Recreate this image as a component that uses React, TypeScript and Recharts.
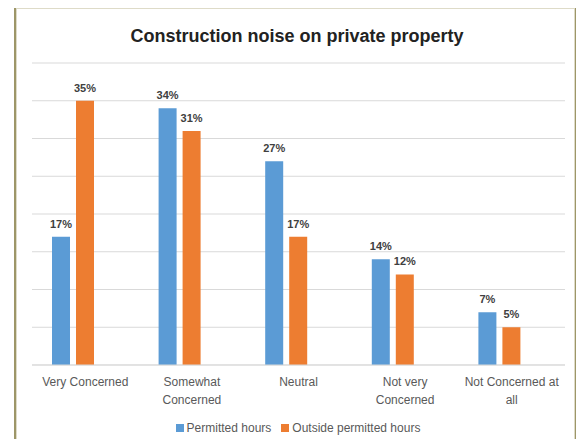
import { BarChart, Bar, XAxis, YAxis, CartesianGrid, Legend, LabelList } from "recharts";

const categories = ["Very Concerned", "Somewhat Concerned", "Neutral", "Not very Concerned", "Not Concerned at all"];
const categoryLines = [["Very Concerned"], ["Somewhat", "Concerned"], ["Neutral"], ["Not very", "Concerned"], ["Not Concerned at", "all"]];
const permitted = [17, 34, 27, 14, 7];
const outside = [35, 31, 17, 12, 5];
const yTicks = [0, 5, 10, 15, 20, 25, 30, 35, 40];

const BLUE = "#5b9bd5";
const ORANGE = "#ed7d31";
const FONT = "'Liberation Sans', Arial, sans-serif";

const data = categories.map((c, i) => ({ category: c, permitted: permitted[i], outside: outside[i] }));

function CategoryTick({ x, y, payload }: any) {
  const lines = categoryLines[payload.index] || [payload.value];
  return (
    <text x={x} y={y} textAnchor="middle" fill="#595959" fontSize={12} fontFamily={FONT}>
      {lines.map((l, i) => (
        <tspan key={i} x={x} dy={i === 0 ? 13 : 18}>{l}</tspan>
      ))}
    </text>
  );
}

function LegendContent() {
  const items = [
    { label: "Permitted hours", color: BLUE },
    { label: "Outside permitted hours", color: ORANGE },
  ];
  return (
    <div style={{ display: "flex", justifyContent: "center", paddingLeft: 12, height: 20, alignItems: "center",
      fontFamily: FONT, fontSize: 12, color: "#595959" }}>
      {items.map((it) => (
        <div key={it.label} style={{ display: "flex", alignItems: "center", margin: "0 5px" }}>
          <span style={{ width: 8, height: 8, background: it.color, display: "inline-block", marginRight: 3 }} />
          <span>{it.label}</span>
        </div>
      ))}
    </div>
  );
}

export default function App() {
  return (
    <div style={{ position: "relative", width: 584, height: 447, margin: -8, overflow: "hidden", background: "#fff" }}>
      <div style={{ position: "absolute", left: 14, top: 6, width: 559, height: 460,
        border: "2px solid #9d9668", boxShadow: "inset 0 0 0 1px #dedbc8" }} />
      <div style={{ position: "absolute", left: 0, width: 594, top: 26, textAlign: "center",
        fontFamily: FONT, fontWeight: "bold", fontSize: 18, color: "#222" }}>
        Construction noise on private property
      </div>
      <div style={{ position: "absolute", left: 0, top: 0 }}>
        <BarChart width={584} height={447} data={data} barSize={18} barGap={6}
          margin={{ top: 63, right: 19, left: 32, bottom: 9 }}>
          <CartesianGrid vertical={false} stroke="#d9d9d9" />
          <XAxis dataKey="category" height={53} tickLine={false} axisLine={{ stroke: "#d9d9d9" }}
            tick={<CategoryTick />} interval={0} />
          <XAxis xAxisId="bars" dataKey="category" hide padding={{ left: -12, right: 12 }} />
          <YAxis hide domain={[0, 40]} ticks={yTicks} />
          <Legend verticalAlign="bottom" content={<LegendContent />} wrapperStyle={{ left: 0, width: 584 }} />
          <Bar xAxisId="bars" dataKey="permitted" name="Permitted hours" fill={BLUE} isAnimationActive={false}>
            <LabelList dataKey="permitted" position="top" offset={9} formatter={(v: any) => `${v}%`}
              style={{ fill: "#404040", fontSize: 11, fontWeight: "bold", fontFamily: FONT }} />
          </Bar>
          <Bar xAxisId="bars" dataKey="outside" name="Outside permitted hours" fill={ORANGE} isAnimationActive={false}>
            <LabelList dataKey="outside" position="top" offset={9} formatter={(v: any) => `${v}%`}
              style={{ fill: "#404040", fontSize: 11, fontWeight: "bold", fontFamily: FONT }} />
          </Bar>
        </BarChart>
      </div>
    </div>
  );
}
